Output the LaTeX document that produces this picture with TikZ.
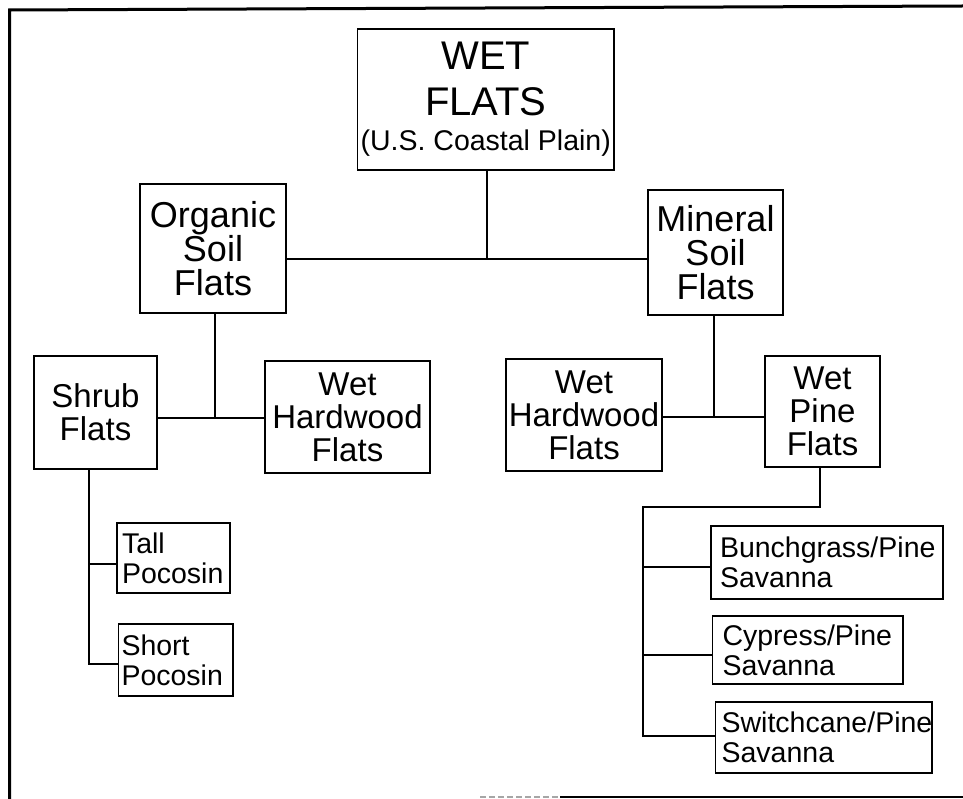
\documentclass[tikz,border=0pt]{standalone}
\usepackage{fontspec}
\setmainfont{Liberation Sans}
\begin{document}
\begin{tikzpicture}[x=1pt,y=-1pt,
  box/.style={draw, line width=1.5pt, rectangle, inner sep=0pt, align=center},
  lone/.style={box, font=\fontsize{40}{46}\selectfont},
  ltwo/.style={box, font=\fontsize{36}{34}\selectfont},
  lthree/.style={box, font=\fontsize{33}{33}\selectfont},
  lfour/.style={box, align=left, font=\fontsize{28.5}{30}\selectfont},
  conn/.style={line width=1.5pt},
  framel/.style={line width=3pt}]
\useasboundingbox (0,0) rectangle (963,799);
% frame
\coordinate (fa) at (9.5,799);
\coordinate (fb) at (9.5,10);
\coordinate (fc) at (963,6);
\coordinate (fd) at (480,797);
\coordinate (fe) at (560,797);
\coordinate (ff) at (963,797);
\draw[framel] (fa) -- (fb) -- (fc);
\draw[line width=1.5pt, black!35, dash pattern=on 6pt off 3pt] (fd) -- (fe);
\draw[line width=2.5pt] (fe) -- (ff);
% nodes
\node[lone, minimum width=256.5pt, minimum height=141pt] (top) at (485.75,99.5)
  {WET\\FLATS\\[-11pt]{\fontsize{28.5}{35}\selectfont (U.S. Coastal Plain)}};
\node[ltwo, minimum width=146pt, minimum height=129pt] (org) at (213,248.5) {Organic\\Soil\\Flats};
\node[ltwo, minimum width=135pt, minimum height=125pt] (min) at (715.5,252.5) {Mineral\\Soil\\Flats};
\node[lthree, minimum width=123pt, minimum height=113pt] (shrub) at (95.5,412.5) {Shrub\\Flats};
\node[lthree, minimum width=165pt, minimum height=112pt] (whL) at (347.5,417) {Wet\\Hardwood\\Flats};
\node[lthree, minimum width=156pt, minimum height=112pt] (whR) at (584,415) {Wet\\Hardwood\\Flats};
\node[lthree, minimum width=115pt, minimum height=111pt] (pine) at (822.5,411.5) {Wet\\Pine\\Flats};
\node[lfour, inner xsep=5pt, text width=103pt, minimum height=70pt] (tall) at (173.5,558) {Tall\\Pocosin};
\node[lfour, inner xsep=3pt, text width=108.5pt, minimum height=72pt] (short) at (175.75,660) {Short\\Pocosin};
\node[lfour, inner xsep=9pt, text width=214pt, minimum height=73pt] (bunch) at (827,562.5) {Bunchgrass/Pine\\Savanna};
\node[lfour, inner xsep=10pt, text width=170.5pt, minimum height=68pt] (cyp) at (807.75,650) {Cypress/Pine\\Savanna};
\node[lfour, inner xsep=6pt, text width=204.4pt, minimum height=71pt] (switch) at (823.8,737.5) {Switchcane/Pine\\Savanna};
% connectors
\coordinate (j1) at (487,259);
\draw[conn] (top.south -| j1) -- (j1);
\draw[conn] (org.east |- j1) -- (min.west |- j1);
\coordinate (j2) at (215,418);
\draw[conn] (org.south -| j2) -- (j2);
\draw[conn] (shrub.east |- j2) -- (whL.west |- j2);
\coordinate (j3) at (714,417);
\draw[conn] (min.south -| j3) -- (j3);
\draw[conn] (whR.east |- j3) -- (pine.west |- j3);
\coordinate (j4) at (89,664);
\coordinate (j5) at (89,564);
\draw[conn] (shrub.south -| j4) -- (j4) -- (short.west |- j4);
\draw[conn] (j5) -- (tall.west |- j5);
\coordinate (p1) at (820,507);
\coordinate (p2) at (643,507);
\coordinate (p3) at (643,736);
\coordinate (p4) at (643,567);
\coordinate (p5) at (643,655);
\draw[conn] (pine.south -| p1) -- (p1) -- (p2) -- (p3) -- (switch.west |- p3);
\draw[conn] (p4) -- (bunch.west |- p4);
\draw[conn] (p5) -- (cyp.west |- p5);
\end{tikzpicture}
\end{document}
